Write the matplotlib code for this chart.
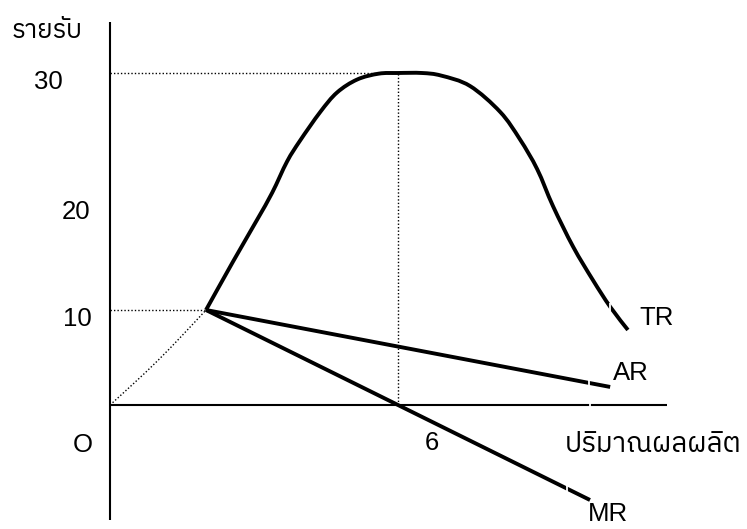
import numpy as np
import matplotlib
matplotlib.use("Agg")
import matplotlib.pyplot as plt
from matplotlib import font_manager
from matplotlib.ft2font import FT2Font
from matplotlib.path import Path
from matplotlib.patches import PathPatch

# ---- data -------------------------------------------------------------
# total revenue curve (quantity, revenue)
tr_q = [2.0, 2.56, 3.06, 3.38, 3.69, 3.96, 4.38, 4.73, 5.15, 5.6, 6.0, 6.5,
        6.9, 7.5, 8.13, 8.54, 8.9, 9.23, 9.65, 10.06, 10.42, 10.79]
tr_r = [10.0, 14.5, 18.4, 20.8, 23.2, 24.8, 27.0, 28.5, 29.5, 29.95, 30.0, 30.0,
        29.8, 29.0, 27.0, 24.9, 22.6, 19.7, 15.9, 12.8, 10.3, 7.9]

# average revenue
ar_q = [2.0, 10.42]
ar_r = [10.0, 1.9]

# marginal revenue
mr_q = [2.0, 6.0, 10.0]
mr_r = [10.0, 0.0, -10.0]

# dotted segment of TR below the kink
tr_low_q = [0.0, 0.5, 1.0, 1.5, 2.0]
tr_low_r = [0.0, 2.3, 4.7, 7.3, 10.0]

y_ticks = [10, 20, 30]
y_tick_labels = ["10", "20", "30"]
q_mark = 6
q_mark_label = "6"
kink_q, kink_r = 2.0, 10.0
peak_r = 30.0

x_title = "ปริมาณผลผลิต"
y_title = "รายรับ"
origin_label = "O"
curve_labels = ["TR", "AR", "MR"]

# schematic (piecewise linear) revenue axis
rev_knots = [-20.0, 0.0, 10.0, 20.0, 30.0, 40.0]
height_knots = [-190.0, 0.0, 95.0, 202.0, 332.0, 463.0]


def fwd(v):
    return np.interp(v, rev_knots, height_knots)


def inv(h):
    return np.interp(h, height_knots, rev_knots)


# ---- fonts ------------------------------------------------------------
def thai_family():
    preferred, others = [], []
    for f in font_manager.fontManager.ttflist:
        try:
            cmap = FT2Font(f.fname).get_charmap()
        except Exception:
            continue
        if 0x0E23 in cmap and 0x0E1A in cmap and 0x0E34 in cmap:
            if "Sans" in f.name or "Thai" in f.name:
                preferred.append(f.name)
            else:
                others.append(f.name)
    found = preferred + others
    return found[0] if found else None


latin = "Liberation Sans"
thai = thai_family()
thai_fams = [thai, latin, "DejaVu Sans"] if thai else [latin, "DejaVu Sans"]
plt.rcParams["font.family"] = [latin, "DejaVu Sans"]

FS = 18.5


def smooth_path(qs, rs):
    """Cubic Bezier path passing through every (q, r) point (Catmull-Rom tangents)."""
    px_per_q = 48.0
    pts = np.column_stack([np.asarray(qs) * px_per_q, fwd(np.asarray(rs))])
    n = len(pts)
    verts = [pts[0]]
    codes = [Path.MOVETO]
    for i in range(n - 1):
        p0 = pts[max(i - 1, 0)]
        p1 = pts[i]
        p2 = pts[i + 1]
        p3 = pts[min(i + 2, n - 1)]
        c1 = p1 + (p2 - p0) / 6.0
        c2 = p2 - (p3 - p1) / 6.0
        verts += [c1, c2, p2]
        codes += [Path.CURVE4] * 3
    verts = np.array(verts)
    verts[:, 0] /= px_per_q
    verts[:, 1] = inv(verts[:, 1])
    return Path(verts, codes)


# ---- figure -----------------------------------------------------------
fig = plt.figure(figsize=(7.47, 5.29), dpi=100)
ax = fig.add_axes([0, 0, 1, 1])
ax.set_yscale("function", functions=(fwd, inv))
q_per_px = 1 / 48.0
ax.set_xlim(-110 * q_per_px, (747 - 110) * q_per_px)
ax.set_ylim(inv(-124), inv(405))
ax.axis("off")

# axes
ax.plot([0, 0], [inv(-115), inv(383)], color="black", lw=1.5, solid_capstyle="butt")
ax.plot([0, 557 * q_per_px], [0, 0], color="black", lw=1.5, solid_capstyle="butt")

dot = dict(color="black", lw=1.0, linestyle=(0, (1, 1.5)))
ax.plot([0, q_mark], [peak_r, peak_r], **dot)
ax.plot([0, kink_q], [kink_r, kink_r], **dot)
ax.plot([q_mark, q_mark], [0, peak_r], **dot)
ax.add_patch(PathPatch(smooth_path(tr_low_q, tr_low_r), fill=False, ec="black",
                       lw=1.0, linestyle=(0, (1, 1.5))))

solid = dict(color="black", lw=2.8, solid_capstyle="butt", solid_joinstyle="round")
ax.add_patch(PathPatch(smooth_path(tr_q, tr_r), fill=False, ec="black", lw=2.8,
                       capstyle="butt", joinstyle="round"))
ax.plot(ar_q, ar_r, **solid)
ax.plot(mr_q, mr_r, **solid)

# small joins where the drawn segments meet
cuts_q = [10.42, 9.98, 9.52, 10.0]
cuts_r = [np.interp(10.42, tr_q, tr_r), np.interp(9.98, ar_q, ar_r),
          np.interp(9.52, mr_q, mr_r), 0.0]
ax.plot(cuts_q, cuts_r, ls="none", marker="|", ms=6, mew=1.3, color="white")

# tick labels on the revenue axis
tick_dx = {10: -33, 20: -34, 30: -62}
for v, lab in zip(y_ticks, y_tick_labels):
    ax.annotate(lab, xy=(0, v), xytext=(tick_dx[v], -9), textcoords="offset pixels",
                ha="center", va="center", fontsize=FS)

ax.annotate(origin_label, xy=(0, 0), xytext=(-27, -40), textcoords="offset pixels",
            ha="center", va="center", fontsize=FS)
ax.annotate(q_mark_label, xy=(q_mark, 0), xytext=(34, -38), textcoords="offset pixels",
            ha="center", va="center", fontsize=FS)

# curve labels next to curve ends
ax.annotate(curve_labels[0], xy=(tr_q[-1], tr_r[-1]), xytext=(29, 12),
            textcoords="offset pixels", ha="center", va="center", fontsize=FS)
ax.annotate(curve_labels[1], xy=(ar_q[-1], ar_r[-1]), xytext=(21, 14),
            textcoords="offset pixels", ha="center", va="center", fontsize=FS)
ax.annotate(curve_labels[2], xy=(mr_q[-1], mr_r[-1]), xytext=(18, -14),
            textcoords="offset pixels", ha="center", va="center", fontsize=FS)

# axis titles
fig.text(12 / 747, 1 - 30 / 529, y_title, ha="left", va="center", fontsize=FS,
         family=thai_fams)
fig.text(565 / 747, 1 - 444 / 529, x_title, ha="left", va="center", fontsize=20,
         family=thai_fams)

fig.savefig("out.png", dpi=100)
